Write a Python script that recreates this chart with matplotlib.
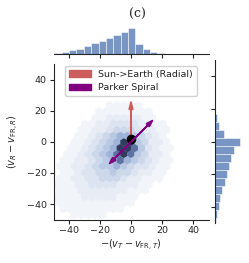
import numpy as np
import matplotlib
matplotlib.use("Agg")
import matplotlib.pyplot as plt
from matplotlib.colors import LinearSegmentedColormap

# marginal histogram of -(v_T - v_FR,T): bin edges and counts
x_edges = [-49.4, -44.7, -39.9, -35.2, -30.4, -25.7, -20.9, -16.2, -11.5,
           -6.7, -2.0, 2.8, 7.5, 12.3, 17.0, 21.8]
x_counts = [30, 60, 110, 160, 240, 320, 400, 470, 570, 660, 770, 300, 140, 70, 30]

# marginal histogram of (v_R - v_FR,R), bottom to top
y_edges = [-51.6, -46.7, -41.8, -36.9, -32.0, -27.1, -22.2, -17.3, -12.4,
           -7.5, -2.6, 2.3, 7.2, 12.1, 17.0]
y_counts = [40, 80, 120, 170, 210, 300, 360, 420, 480, 570, 750, 290, 140, 70]

# hex density levels (0-9), one string per hex row, starting at row 2 from the bottom
hex_first_row = 2
hex_rows = [
    "0000111110000000000000000",
    "001111111110000000000000",
    "0011111111111000000000000",
    "011112222211100000000000",
    "0011122222221110000000000",
    "011122333322211000000000",
    "0011223344432211100000000",
    "001123344544322110000000",
    "0011223455654332110000000",
    "001122345686543211000000",
    "0001123456898542210000000",
    "000112345699853211000000",
    "0000112345699542210000000",
    "000011234566543210000000",
    "0000011223444322110000000",
    "000001122333322110000000",
    "0000000112222211000000000",
    "000000011111111000000000",
    "0000000001111100000000000",
]
hex_gridsize = (24, 14)
hex_extent = (-55, 55, -55, 55)

radial_len = 26
parker_len = 14
dot_xy = (0, 2)

plt.rcParams['font.family'] = 'DejaVu Sans'
plt.rcParams['font.size'] = 6.8
plt.rcParams['axes.edgecolor'] = '#262626'
plt.rcParams['axes.linewidth'] = 0.8
plt.rcParams['xtick.color'] = '#262626'
plt.rcParams['ytick.color'] = '#262626'
plt.rcParams['text.color'] = '#262626'
plt.rcParams['axes.labelcolor'] = '#262626'

W, H = 249, 263
fig = plt.figure(figsize=(W / 100, H / 100), dpi=100)

def box(x0, y0, x1, y1):
    return [x0 / W, 1 - y1 / H, (x1 - x0) / W, (y1 - y0) / H]

ax = fig.add_axes(box(53.5, 64.5, 208.5, 219.5))
ax_top = fig.add_axes(box(53.5, 23, 208.5, 54))
ax_right = fig.add_axes(box(214.5, 60, 245.5, 223))

cmap = LinearSegmentedColormap.from_list('hexblue', [
    (0.0, '#ffffff'), (0.11, '#f1f4f9'), (0.33, '#dce4f1'), (0.55, '#bccae4'),
    (0.67, '#9eb1d8'), (0.89, '#5d72a3'), (1.0, '#2f3c5f')])

# place each level on the centre of its hexagon
sx = (hex_extent[1] - hex_extent[0]) / hex_gridsize[0]
sy = (hex_extent[3] - hex_extent[2]) / hex_gridsize[1]
xs, ys, cs = [], [], []
for k, row in enumerate(hex_rows, start=hex_first_row):
    for i, ch in enumerate(row):
        if ch != '0':
            xs.append(hex_extent[0] + (i + 0.5 * (k % 2)) * sx)
            ys.append(hex_extent[2] + k * sy / 2)
            cs.append(int(ch))
ax.hexbin(xs, ys, C=cs, reduce_C_function=np.sum, gridsize=hex_gridsize,
          extent=hex_extent, cmap=cmap, vmin=0, vmax=9,
          linewidths=0.2, edgecolors='face')

ax.arrow(0, 0, 0, radial_len, color='indianred', width=0.25, head_width=2.6,
         head_length=5, length_includes_head=True, zorder=3,
         label='Sun->Earth (Radial)')
ax.scatter([dot_xy[0]], [dot_xy[1]], s=35, color='black', zorder=4)
ax.arrow(0, 0, parker_len, parker_len, color='purple', width=0.3,
         head_width=2.8, head_length=4.5, length_includes_head=True, zorder=5,
         label='Parker Spiral')
ax.arrow(0, 0, -parker_len, -parker_len, color='purple', width=0.3,
         head_width=2.8, head_length=4.5, length_includes_head=True, zorder=5)

ax.set_xlim(-50, 50)
ax.set_ylim(-50, 50)
ax.set_xticks([-40, -20, 0, 20, 40])
ax.set_yticks([-40, -20, 0, 20, 40])
ax.tick_params(length=3, width=0.8, pad=2)
for s in ['top', 'right']:
    ax.spines[s].set_visible(False)
ax.set_xlabel(r'$-(v_T - v_{\mathrm{FR},T})$', fontsize=7, labelpad=2)
ax.set_ylabel(r'$(v_R - v_{\mathrm{FR},R})$', fontsize=7, labelpad=4)
ax.legend(loc='upper center', fontsize=6.8, borderaxespad=0.15,
          handlelength=2.3, framealpha=0.9)

# marginal histograms
ax_top.hist(x_edges[:-1], bins=x_edges, weights=x_counts, color='#4C72B0',
            alpha=0.75, edgecolor='white', linewidth=0.5)
ax_top.set_xlim(-50, 50)
ax_top.set_ylim(0, 930)
ax_top.set_xticks([-40, -20, 0, 20, 40])
ax_top.tick_params(axis='x', length=3, width=0.8, labelbottom=False)
ax_top.tick_params(axis='y', left=False, labelleft=False)
for s in ['top', 'right', 'left']:
    ax_top.spines[s].set_visible(False)

ax_right.hist(y_edges[:-1], bins=y_edges, weights=y_counts, color='#4C72B0',
              alpha=0.75, edgecolor='white', linewidth=0.5,
              orientation='horizontal')
ax_right.set_ylim(-50, 50)
ax_right.set_xlim(0, 930)
ax_right.set_yticks([-40, -20, 0, 20, 40])
ax_right.tick_params(axis='y', length=3, width=0.8, labelleft=False)
ax_right.tick_params(axis='x', bottom=False, labelbottom=False)
for s in ['top', 'right', 'bottom']:
    ax_right.spines[s].set_visible(False)

fig.text(137 / W, 1 - 14 / H, '(c)', ha='center', va='center',
         family='DejaVu Serif', fontsize=9)

fig.savefig('out.png', dpi=100)
